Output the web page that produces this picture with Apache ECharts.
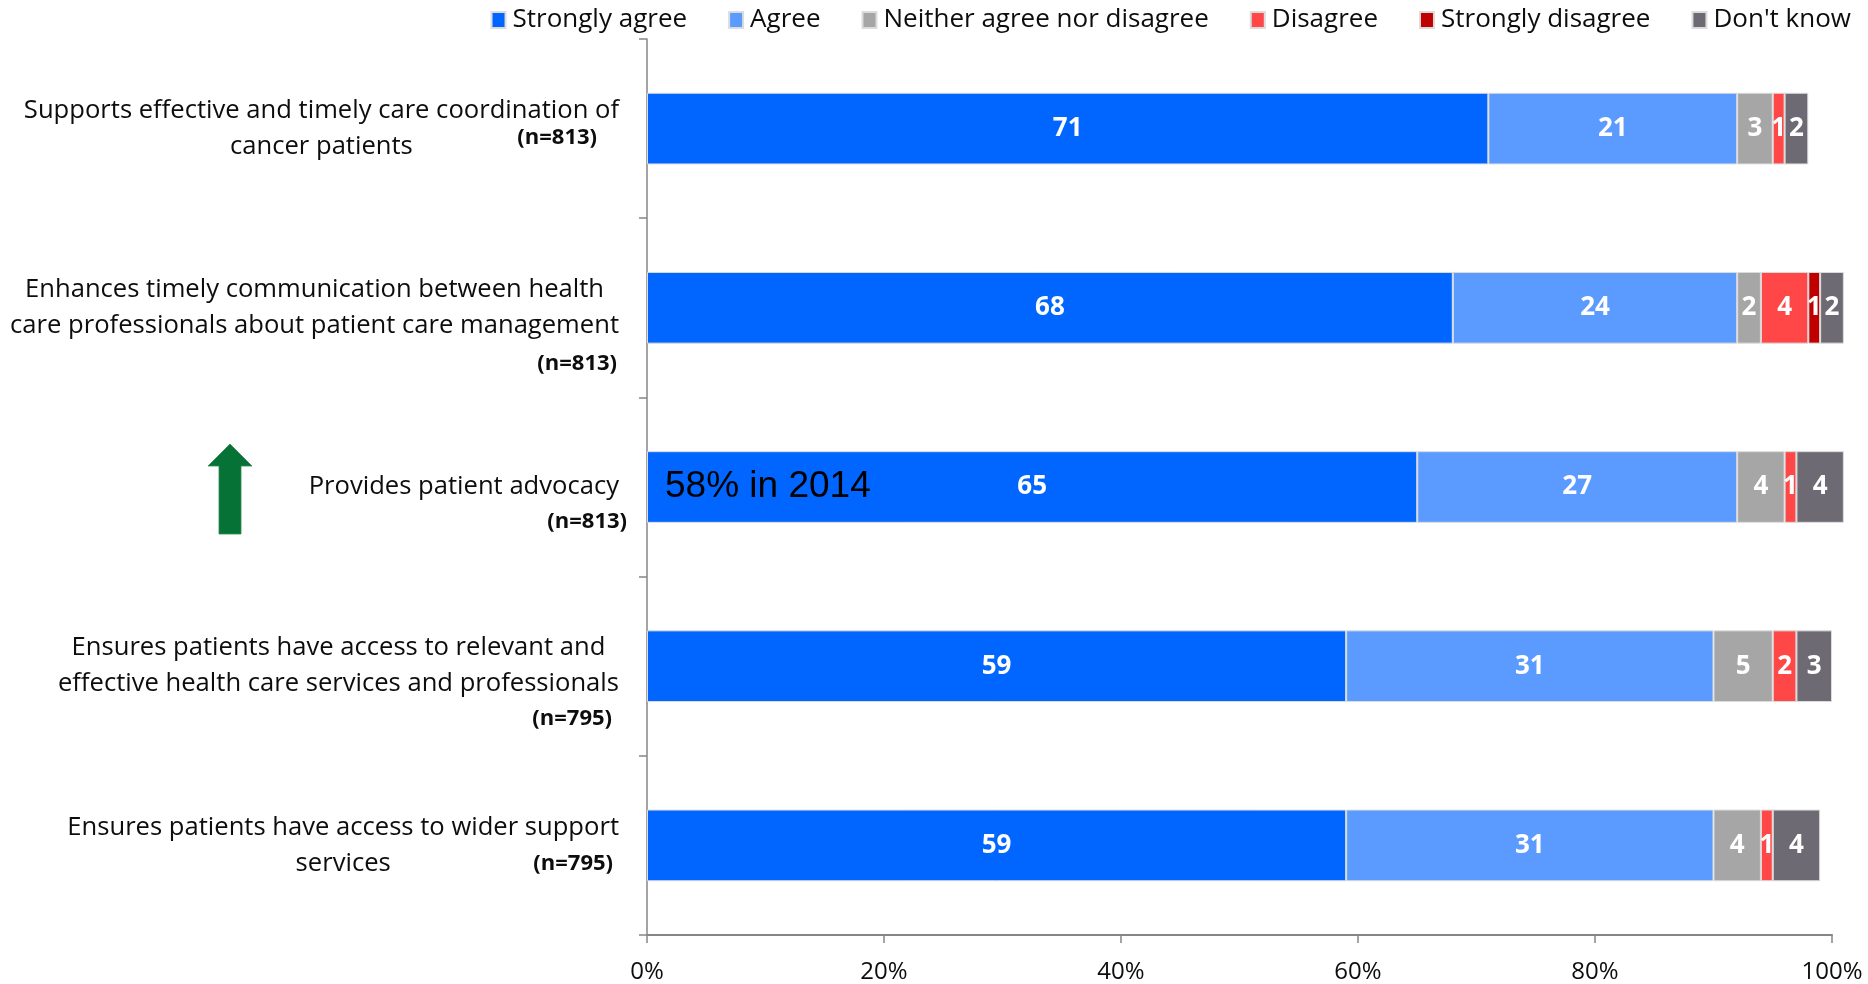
<!DOCTYPE html>
<html>
<head>
<meta charset="utf-8">
<script src="https://cdn.jsdelivr.net/npm/echarts@6/dist/echarts.min.js"></script>
<style>
  html, body { margin: 0; padding: 0; background: #ffffff; }
  #chart { width: 1868px; height: 984px; }
</style>
</head>
<body>
<div id="chart"></div>
<script>
// Survey statements (one bar each), top to bottom
const categories = [
  'Supports effective and timely care coordination of\ncancer patients',
  'Enhances timely communication between health\ncare professionals about patient care management',
  'Provides patient advocacy',
  'Ensures patients have access to relevant and\neffective health care services and professionals',
  'Ensures patients have access to wider support\nservices'
];
const sampleSizes = ['(n=813)', '(n=813)', '(n=813)', '(n=795)', '(n=795)'];

// Response shares (%) per statement
const responseNames = ['Strongly agree', 'Agree', 'Neither agree nor disagree', 'Disagree', 'Strongly disagree', "Don't know"];
const stronglyAgree    = [71, 68, 65, 59, 59];
const agree            = [21, 24, 27, 31, 31];
const neither          = [3, 2, 4, 5, 4];
const disagree         = [1, 4, 1, 2, 1];
const stronglyDisagree = [0, 1, 0, 0, 0];
const dontKnow         = [2, 2, 4, 3, 4];

// Percentage axis
const axisMin = 0;
const axisMax = 100;
const axisStep = 20;

// Note shown on the advocacy bar
const trendNote = '58% in 2014';
const trendRow = 2;

const FONT = '"Open Sans", "Noto Sans", sans-serif';
const TEXT = '#0d0d0d';
const AXIS = '#868686';
const palette = ['#0066FF', '#5B9BFF', '#A6A6A6', '#FF4747', '#C00000', '#6E6A74'];
const responseValues = [stronglyAgree, agree, neither, disagree, stronglyDisagree, dontKnow];

const chart = echarts.init(document.getElementById('chart'), null, { renderer: 'canvas' });

const series = responseNames.map((name, k) => ({
  name,
  type: 'bar',
  stack: 'total',
  barWidth: '40%',
  clip: false,
  data: responseValues[k],
  itemStyle: { color: palette[k], borderColor: '#dcdcdc', borderWidth: 1 },
  label: {
    show: true,
    position: 'inside',
    formatter: p => (p.value > 0 ? String(p.value) : ''),
    color: '#ffffff',
    fontFamily: FONT,
    fontWeight: 'bold',
    fontSize: 26
  },
  emphasis: { disabled: true }
}));

const option = {
  animation: false,
  backgroundColor: '#ffffff',
  textStyle: { fontFamily: FONT },
  legend: {
    data: responseNames,
    right: 12,
    top: 2,
    icon: 'rect',
    itemWidth: 14,
    itemHeight: 16,
    itemGap: 41,
    textStyle: { fontFamily: FONT, fontSize: 26, color: TEXT, padding: [0, 0, 0, 2] }
  },
  grid: { left: 647, right: 36, top: 39, bottom: 49, containLabel: false, outerBoundsMode: 'none' },
  xAxis: {
    type: 'value',
    min: axisMin,
    max: axisMax,
    interval: axisStep,
    splitLine: { show: false },
    axisLine: { show: true, lineStyle: { color: AXIS, width: 2 } },
    axisTick: { show: true, length: 8, lineStyle: { color: AXIS, width: 1.5 } },
    axisLabel: { formatter: '{value}%', fontFamily: FONT, fontSize: 24, color: TEXT, margin: 25 }
  },
  yAxis: {
    type: 'category',
    data: categories,
    inverse: true,
    axisLine: { show: true, lineStyle: { color: AXIS, width: 1.5 } },
    axisTick: { show: true, length: 8, lineStyle: { color: AXIS, width: 1.5 } },
    axisLabel: {
      margin: 28,
      align: 'right',
      formatter: v => v.split('\n').map(line => '{c|' + line + '}').join('\n'),
      rich: {
        c: { align: 'center', fontFamily: FONT, fontSize: 25.6, lineHeight: 36, color: TEXT }
      }
    }
  },
  series
};

chart.setOption(option);

// Sample-size notes, the upward trend arrow and the 2014 comparison,
// placed relative to each bar's row on the category axis.
const rowY = categories.map((c, i) => chart.convertToPixel({ yAxisIndex: 0 }, i));
const noteRight = [597, 617, 627, 612, 613];
const noteShift = [9, 56, 35, 53, 18];

const graphics = sampleSizes.map((txt, i) => ({
  type: 'text',
  x: noteRight[i],
  y: rowY[i] + noteShift[i],
  z: 100,
  style: {
    text: txt,
    font: 'bold 22px ' + FONT,
    fill: TEXT,
    align: 'right',
    verticalAlign: 'middle'
  }
}));

graphics.push({
  type: 'polygon',
  x: 0,
  y: rowY[trendRow],
  z: 100,
  shape: {
    points: [[230, -43], [252, -21], [241, -21], [241, 47], [219, 47], [219, -21], [208, -21]]
  },
  style: { fill: '#077236', stroke: '#2f8a52', lineWidth: 0.8 }
});

graphics.push({
  type: 'text',
  x: 665,
  y: rowY[trendRow],
  z: 100,
  style: {
    text: trendNote,
    font: '37px "Liberation Sans", Arial, sans-serif',
    fill: '#000000',
    align: 'left',
    verticalAlign: 'middle'
  }
});

chart.setOption({ graphic: graphics });
</script>
</body>
</html>
